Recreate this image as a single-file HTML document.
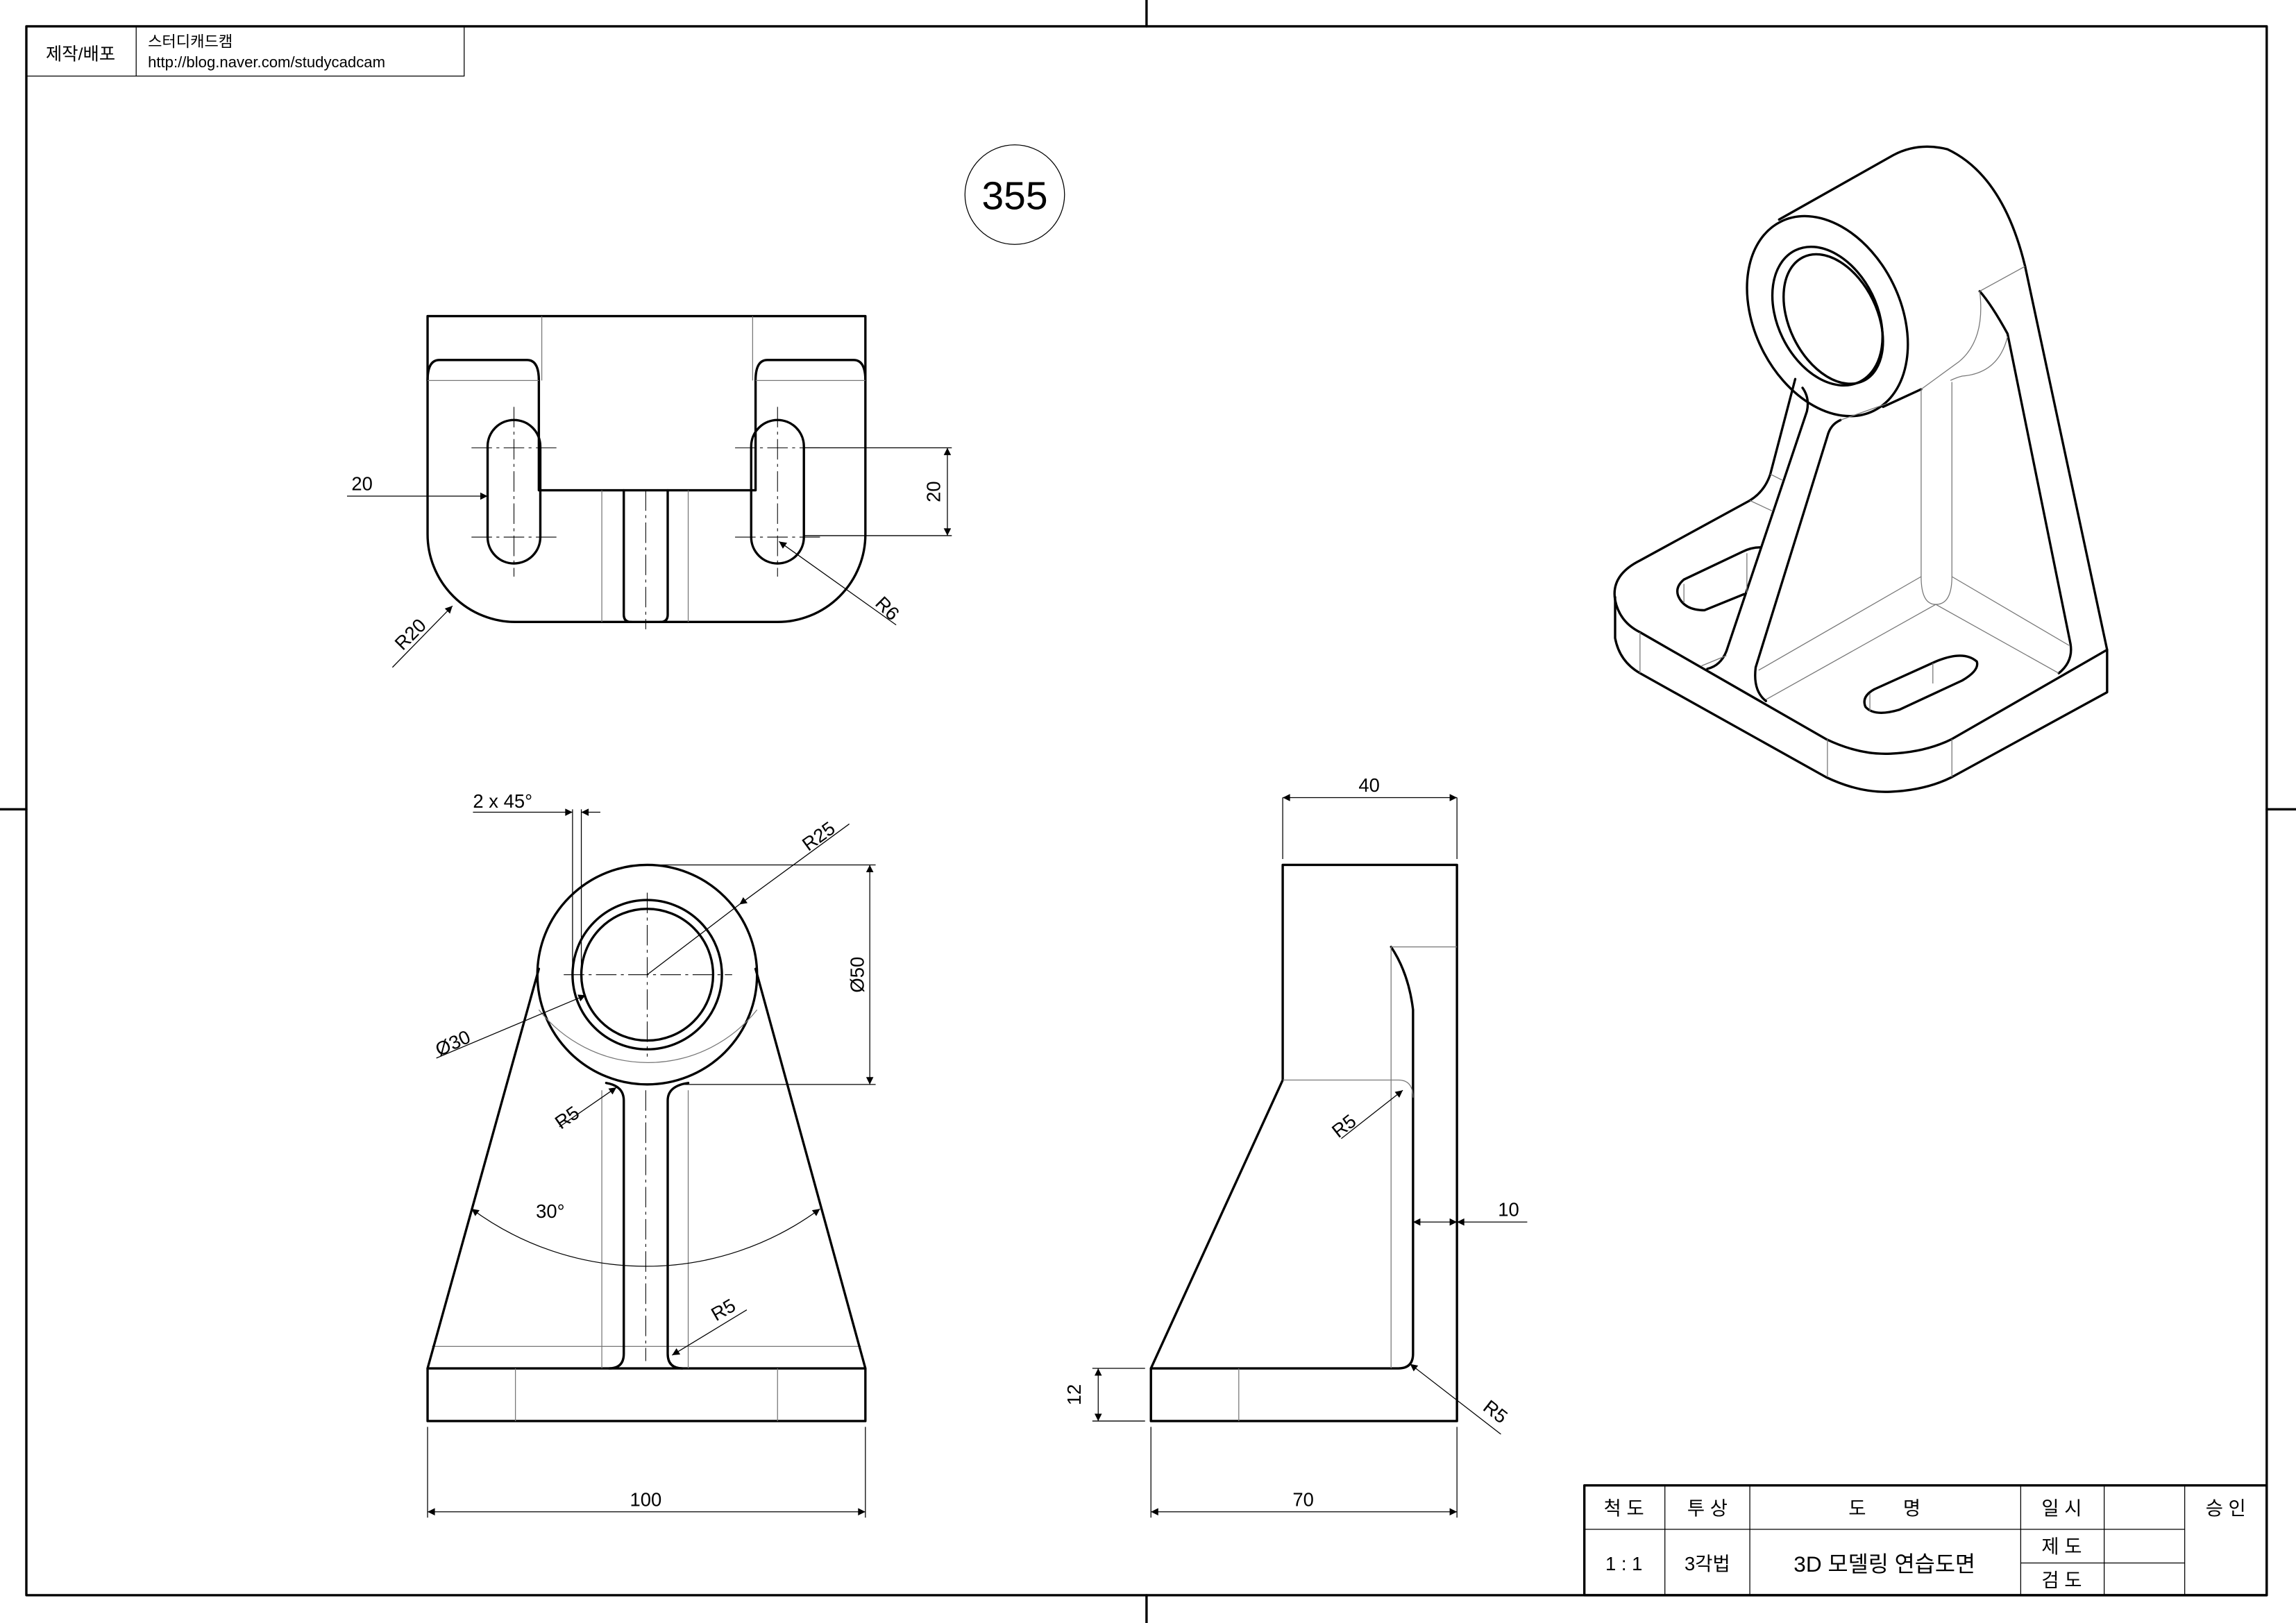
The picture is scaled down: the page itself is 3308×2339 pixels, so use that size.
<!DOCTYPE html>
<html><head><meta charset="utf-8">
<style>
html,body{margin:0;padding:0;background:#fff;}
svg{display:block;}
text{font-family:"Liberation Sans","Noto Sans CJK KR",sans-serif;fill:#000;}
.k{stroke:#000;stroke-width:1.6;fill:none;stroke-linejoin:round;stroke-linecap:round;}
.t{stroke:#000;stroke-width:0.6;fill:none;}
.tg{stroke:#777;stroke-width:0.6;fill:none;}
.c{stroke:#000;stroke-width:0.5;fill:none;stroke-dasharray:14 3 2 3;}
</style></head><body>
<svg width="3308" height="2339" viewBox="0 0 1568 1109" preserveAspectRatio="none" xmlns="http://www.w3.org/2000/svg">
<defs>
<marker id="a" viewBox="0 0 10 10" refX="10" refY="5" markerWidth="9" markerHeight="5" orient="auto-start-reverse" markerUnits="userSpaceOnUse"><path d="M0,0 L10,5 L0,10 z" fill="#000"/></marker>
</defs>
<rect width="1568" height="1109" fill="#fff"/>
<rect x="18" y="18" width="1530" height="1072" class="k" stroke-width="1.4"/>
<path d="M783,0V18M783,1090V1109M0,553H18M1548,553H1568" class="k" stroke-width="1.2"/>
<!-- top left box -->
<path d="M18,52H317V18M93,18V52" class="t" stroke-width="0.9"/>
<text x="55" y="41" font-size="12" text-anchor="middle">제작/배포</text>
<text x="101" y="32" font-size="10.5">스터디캐드캠</text>
<text x="101" y="46" font-size="10.5">http://blog.naver.com/studycadcam</text>
<circle cx="693" cy="133" r="34" class="t" stroke-width="0.9"/>
<text x="693" y="143" font-size="27" text-anchor="middle">355</text>

<!-- TOP VIEW -->
<path d="M292,216H591V365A60,60 0 0 1 531,425H352A60,60 0 0 1 292,365Z" class="k"/>
<path d="M292,260Q292,246 300,246H360Q368,246 368,260V335H516V260Q516,246 524,246H583Q591,246 591,260" class="k"/>
<path d="M292,260H368M516,260H591M370,216V260M514,216V260" class="tg"/>
<rect x="333" y="287" width="36" height="98" rx="18" class="k"/>
<rect x="513" y="287" width="36" height="98" rx="18" class="k"/>
<path d="M426,335V420Q426,425 431,425M456,335V420Q456,425 451,425" class="k"/>
<path d="M411,335V425M470,335V425" class="tg"/>
<path d="M351,278V394M531,278V394M322,306H380M502,306H560M322,367H380M502,367H560M441,335V430" class="c"/>
<path d="M549,306H650M549,366H650" class="t"/>
<path d="M647,306V366" class="t" marker-start="url(#a)" marker-end="url(#a)"/>
<text x="642" y="336" font-size="13" text-anchor="middle" transform="rotate(-90 642 336)">20</text>
<path d="M237,339H333" class="t" marker-end="url(#a)"/>
<text x="240" y="335" font-size="13">20</text>
<path d="M268,456L309,414" class="t" marker-end="url(#a)"/>
<text x="275" y="445" font-size="13" transform="rotate(-45 275 445)">R20</text>
<path d="M612,427L532,370" class="t" marker-end="url(#a)"/>
<text x="597" y="413" font-size="13" transform="rotate(45 597 413)">R6</text>

<!-- FRONT VIEW -->
<rect x="292" y="935" width="299" height="36" class="k"/>
<path d="M352,935V971M531,935V971M295,920H588" class="tg"/>
<circle cx="442" cy="666" r="75" class="k"/>
<circle cx="442" cy="666" r="51" class="k"/>
<circle cx="442" cy="666" r="45" class="k"/>
<path d="M368,662L292,935M516,662L591,935" class="k"/>
<path d="M414,740Q426,742 426,752V925Q426,935 416,935M470,740Q456,742 456,752V925Q456,935 466,935" class="k"/>
<path d="M411,745V935M470,745V935" class="tg"/>
<path d="M368,690A95,95 0 0 0 517,690" class="tg"/>
<path d="M385,666H500M442,610V722M441,745V930" class="c"/>
<path d="M442,591H598M467,741H598" class="t"/>
<path d="M594,591V741" class="t" marker-start="url(#a)" marker-end="url(#a)"/>
<text x="590" y="666" font-size="13" text-anchor="middle" transform="rotate(-90 590 666)">Ø50</text>
<path d="M580,563L505,618" class="t" marker-end="url(#a)"/>
<path d="M505,618L442,666" class="t"/>
<text x="552" y="582" font-size="13" transform="rotate(-36 552 582)">R25</text>
<path d="M298,723L400,680" class="t" marker-end="url(#a)"/>
<text x="300" y="722" font-size="13" transform="rotate(-25 300 722)">Ø30</text>
<path d="M391,553V660M397,553V660" class="t"/>
<path d="M323,555H391" class="t" marker-end="url(#a)"/>
<path d="M410,555H397" class="t" marker-end="url(#a)"/>
<text x="323" y="552" font-size="13">2 x 45°</text>
<path d="M322,826A200,200 0 0 0 560,826" class="t" marker-start="url(#a)" marker-end="url(#a)"/>
<text x="366" y="832" font-size="13">30°</text>
<path d="M382,770L421,743" class="t" marker-end="url(#a)"/>
<text x="383" y="772" font-size="13" transform="rotate(-35 383 772)">R5</text>
<path d="M510,895L459,926" class="t" marker-end="url(#a)"/>
<text x="489" y="903" font-size="13" transform="rotate(-30 489 903)">R5</text>
<path d="M292,975V1037M591,975V1037" class="t"/>
<path d="M292,1033H591" class="t" marker-start="url(#a)" marker-end="url(#a)"/>
<text x="441" y="1029" font-size="13" text-anchor="middle">100</text>

<!-- SIDE VIEW -->
<path d="M786,935L876,738V591H995V971H786Z" class="k"/>
<path d="M786,935H955Q965,935 965,925V690Q962,665 950,647" class="k"/>
<path d="M950,647H995M950,647V935M876,738H955Q965,738 965,750M846,935V971" class="tg"/>
<path d="M876,587V545M995,587V545" class="t"/>
<path d="M876,545H995" class="t" marker-start="url(#a)" marker-end="url(#a)"/>
<text x="935" y="541" font-size="13" text-anchor="middle">40</text>
<path d="M1043,835H995" class="t" marker-end="url(#a)"/>
<path d="M995,835H965" class="t" marker-start="url(#a)" marker-end="url(#a)"/>
<text x="1023" y="831" font-size="13">10</text>
<path d="M782,935H746M782,971H746" class="t"/>
<path d="M750,935V971" class="t" marker-start="url(#a)" marker-end="url(#a)"/>
<text x="738" y="953" font-size="13" text-anchor="middle" transform="rotate(-90 738 953)">12</text>
<path d="M786,975V1037M995,975V1037" class="t"/>
<path d="M786,1033H995" class="t" marker-start="url(#a)" marker-end="url(#a)"/>
<text x="890" y="1029" font-size="13" text-anchor="middle">70</text>
<path d="M916,778L958,745" class="t" marker-end="url(#a)"/>
<text x="914" y="778" font-size="13" transform="rotate(-38 914 778)">R5</text>
<path d="M1025,980L963,932" class="t" marker-end="url(#a)"/>
<text x="1012" y="963" font-size="13" transform="rotate(38 1012 963)">R5</text>

<!-- ISO VIEW -->
<path d="M1195,342L1120,383Q1100,393 1103,410Q1106,425 1120,432L1247,505Q1270,516 1291,515Q1315,514 1333,505L1439,444" class="k"/>
<path d="M1103,408V436Q1106,452 1120,460L1247,531Q1270,542 1291,541Q1315,540 1333,531L1439,473V444" class="k"/>
<path d="M1120,432V460M1248,505V531M1333,505V531" class="tg"/>
<path d="M1215,150L1293,106Q1310,97 1330,102Q1368,120 1383,182" class="k"/>
<ellipse cx="1248" cy="216" rx="50" ry="72" transform="rotate(-26 1248 216)" class="k"/>
<ellipse cx="1248" cy="216" rx="34" ry="50" transform="rotate(-26 1248 216)" class="k"/>
<ellipse cx="1252" cy="218" rx="30" ry="47" transform="rotate(-26 1252 218)" class="k"/>
<path d="M1286,278L1312,266" class="k"/>
<path d="M1383,182L1439,444" class="k"/>
<path d="M1352,199Q1360,208 1371,228L1414,440Q1416,452 1406,460" class="k"/>
<path d="M1383,182L1352,199M1352,199Q1356,232 1338,247L1312,266M1371,230Q1365,255 1340,257Q1336,258 1332,260M1312,266V394Q1312,413 1322,413Q1333,413 1333,394V261M1322,413L1206,478M1322,413L1406,460M1312,394L1201,458M1333,394L1413,441" class="tg"/>
<path d="M1226,259L1209,324Q1205,336 1195,342" class="k"/>
<path d="M1231,265Q1236,272 1234,281L1179,445Q1175,455 1166,457" class="k"/>
<path d="M1257,287Q1250,290 1248,298L1199,456Q1197,472 1206,479" class="k"/>
<path d="M1257,287L1288,276M1195,342L1210,349M1209,324L1217,328M1162,455L1179,448" class="tg"/>
<path d="M1202,374Q1196,374 1190,377L1150,396Q1144,401 1146,407Q1150,417 1164,417L1191,406" class="k"/>
<path d="M1150,399V412M1193,378V405" class="tg"/>
<path d="M1280,471L1322,452Q1341,444 1350,452Q1352,458 1340,465L1297,485Q1280,490 1274,483Q1271,476 1280,471Z" class="k"/>
<path d="M1277,474V486M1320,453V467" class="tg"/>

<!-- TITLE BLOCK -->
<rect x="1082" y="1015" width="466" height="75" class="k" stroke-width="1.2"/>
<path d="M1082,1045H1492M1137,1015V1090M1195,1015V1090M1380,1015V1090M1437,1015V1090M1492,1015V1090M1380,1068H1492" class="t" stroke-width="0.9"/>
<text x="1109" y="1035" font-size="13" text-anchor="middle">척 도</text>
<text x="1166" y="1035" font-size="13" text-anchor="middle">투 상</text>
<text x="1287" y="1035" font-size="13" text-anchor="middle">도&#160;&#160;&#160;&#160;&#160;&#160;&#160;명</text>
<text x="1408" y="1035" font-size="13" text-anchor="middle">일 시</text>
<text x="1520" y="1035" font-size="13" text-anchor="middle">승 인</text>
<text x="1109" y="1073" font-size="13" text-anchor="middle">1 : 1</text>
<text x="1166" y="1073" font-size="13" text-anchor="middle">3각법</text>
<text x="1287" y="1074" font-size="15" text-anchor="middle">3D 모델링 연습도면</text>
<text x="1408" y="1061" font-size="13" text-anchor="middle">제 도</text>
<text x="1408" y="1084" font-size="13" text-anchor="middle">검 도</text>
</svg>
</body></html>
